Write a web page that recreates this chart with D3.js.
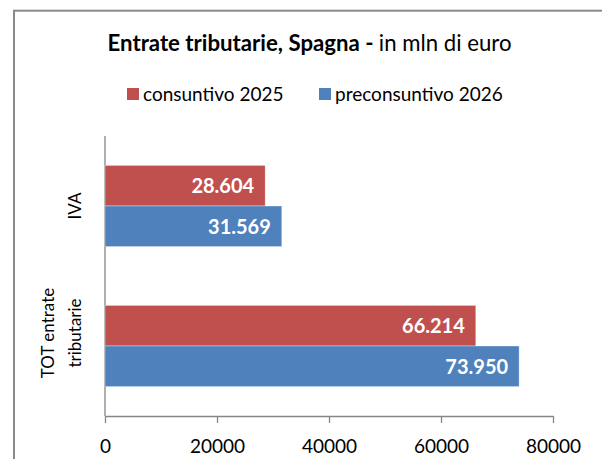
<!DOCTYPE html>
<html>
<head>
<meta charset="utf-8">
<script src="https://cdn.jsdelivr.net/npm/d3@7"></script>
<style>
  body { margin: 0; background: #fff; }
  text { font-family: Lato, "Open Sans", sans-serif; }
</style>
</head>
<body>
<div id="chart"></div>
<script>
// chart values
var categories = ["IVA", "TOT entrate tributarie"];
var categoryLines = [["IVA"], ["TOT entrate", "tributarie"]];
var seriesNames = ["consuntivo 2025", "preconsuntivo 2026"];
var consuntivo2025 = [28604, 66214];
var preconsuntivo2026 = [31569, 73950];
var valueLabels2025 = ["28.604", "66.214"];
var valueLabels2026 = ["31.569", "73.950"];
var xTicks = [0, 20000, 40000, 60000, 80000];

var colors = ["#C0504D", "#4F81BD"];

var svgWidth = 602, svgHeight = 459;

var svg = d3.select("#chart")
  .append("svg")
  .attr("width", svgWidth)
  .attr("height", svgHeight);

// outer frame (right and bottom edges fall outside the picture)
svg.append("rect")
  .attr("x", 14).attr("y", 10.7)
  .attr("width", 620).attr("height", 480)
  .attr("fill", "none")
  .attr("stroke", "#8a8a8a")
  .attr("stroke-width", 2);

// title
var title = svg.append("text")
  .attr("x", 309.5).attr("y", 51)
  .attr("text-anchor", "middle")
  .attr("font-size", 22.2)
  .attr("fill", "#000");
title.append("tspan").attr("font-weight", "bold").text("Entrate tributarie, Spagna - ");
title.append("tspan").text("in mln di euro");

// legend
var legendX = [127, 319];
var legend = svg.selectAll("g.legend")
  .data(seriesNames)
  .enter()
  .append("g")
  .attr("class", "legend")
  .attr("transform", (d, i) => `translate(${legendX[i]}, 88)`);
legend.append("rect")
  .attr("width", 12).attr("height", 12)
  .attr("fill", (d, i) => colors[i]);
legend.append("text")
  .attr("x", 16).attr("y", 13)
  .attr("font-size", 19)
  .text(d => d);

var margin = { top: 136, left: 105 };
var width = 448, height = 280;

var chartGroup = svg.append("g")
  .attr("transform", `translate(${margin.left}, ${margin.top})`);

var xScale = d3.scaleLinear()
  .domain([0, 80000])
  .range([0, width]);

var yScale = d3.scaleBand()
  .domain(categories)
  .range([0, height])
  .paddingInner(0.42)
  .paddingOuter(0.21);

var ySub = d3.scaleBand()
  .domain([0, 1])
  .range([0, yScale.bandwidth()]);

var xAxis = d3.axisBottom(xScale)
  .tickValues(xTicks)
  .tickFormat(d3.format("d"))
  .tickSize(7)
  .tickSizeOuter(0);

var xg = chartGroup.append("g")
  .attr("transform", `translate(0, ${height})`)
  .call(xAxis);
xg.selectAll("line, path").attr("stroke", "#868686").attr("stroke-width", 1.3);
xg.selectAll("text")
  .attr("font-size", 19)
  .attr("font-family", "Lato, sans-serif")
  .attr("fill", "#000")
  .attr("y", 37)
  .attr("dy", 0);

chartGroup.append("line")
  .attr("x1", 0).attr("x2", 0)
  .attr("y1", 0).attr("y2", height)
  .attr("stroke", "#868686")
  .attr("stroke-width", 1.3);

var series = [
  { values: consuntivo2025, labels: valueLabels2025 },
  { values: preconsuntivo2026, labels: valueLabels2026 }
];

series.forEach(function(s, si) {
  var rows = categories.map((c, i) => ({ cat: c, value: s.values[i], label: s.labels[i] }));
  chartGroup.selectAll(".bar" + si)
    .data(rows)
    .enter()
    .append("rect")
    .attr("class", "bar" + si)
    .attr("x", 0)
    .attr("y", d => yScale(d.cat) + ySub(si))
    .attr("width", d => xScale(d.value))
    .attr("height", ySub.bandwidth())
    .attr("fill", colors[si])
    .attr("stroke", "#fff")
    .attr("stroke-opacity", 0.5)
    .attr("stroke-width", 0.7);

  chartGroup.selectAll(".lab" + si)
    .data(rows)
    .enter()
    .append("text")
    .attr("class", "lab" + si)
    .attr("x", d => xScale(d.value) - 11)
    .attr("y", d => yScale(d.cat) + ySub(si) + ySub.bandwidth() / 2)
    .attr("dy", "0.38em")
    .attr("text-anchor", "end")
    .attr("font-size", 20)
    .attr("font-weight", "bold")
    .attr("fill", "#fff")
    .text(d => d.label);
});

// category labels, rotated; multi-line labels sit a little above the band centre
var catLabels = chartGroup.selectAll(".cat")
  .data(categories)
  .enter()
  .append("text")
  .attr("class", "cat")
  .attr("transform", (d, i) => `translate(-24, ${yScale(d) + yScale.bandwidth() / 2 - (categoryLines[i].length - 1) * 13}) rotate(-90)`)
  .attr("text-anchor", "middle")
  .attr("font-size", 17)
  .attr("fill", "#000");
catLabels.each(function(d, i) {
  var lines = categoryLines[i];
  var t = d3.select(this);
  lines.forEach(function(l, j) {
    t.append("tspan")
      .attr("x", 0)
      .attr("y", (j - lines.length + 1) * 27)
      .text(l);
  });
});
</script>
</body>
</html>
